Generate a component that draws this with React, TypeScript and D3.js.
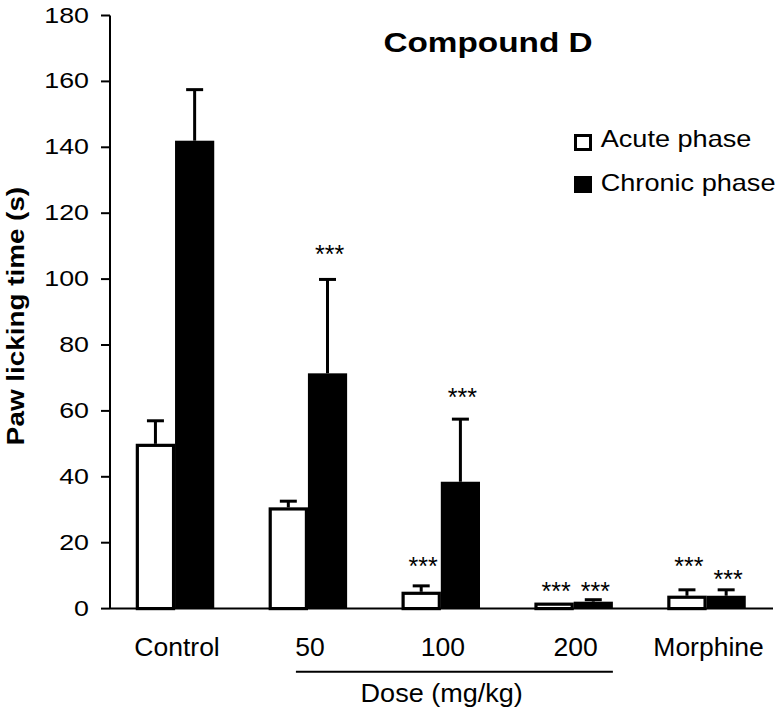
import React from "react";
import * as d3 from "d3";

const categories = ["Control", "50", "100", "200", "Morphine"];
const acuteMean = [50, 30.7, 5.1, 1.8, 3.9];
const acuteSem = [7, 1.9, 1.8, 0, 1.8];
const chronicMean = [142, 71.4, 38.5, 2.1, 3.9];
const chronicSem = [15.5, 28.5, 19, 0.6, 1.8];
// centre height (data units) of "***" significance markers, null = none
const acuteSig: (number | null)[] = [null, null, 14.4, 6.9, 14.5];
const chronicSig: (number | null)[] = [null, 109, 65.6, 6.9, 10.4];
const yTicks = [0, 20, 40, 60, 80, 100, 120, 140, 160, 180];
const doseGroup = ["50", "200"];

const W = 777;
const H = 712;
const FONT = "'Liberation Sans', Arial, sans-serif";

function SText({ x, y, fs, sx = 1, anchor = "start", weight = "normal", rotate = 0, children }: any) {
  const tr = `translate(${x},${y}) rotate(${rotate}) scale(${sx},1)`;
  return (
    <text transform={tr} fontSize={fs} fontFamily={FONT} fontWeight={weight} textAnchor={anchor} fill="#000">
      {children}
    </text>
  );
}

export default function App() {
  const y = d3.scaleLinear().domain([0, 180]).range([608.6, 15.5]);
  const x = d3.scaleBand<string>().domain(categories).range([108.6, 773]).paddingInner(0.41).paddingOuter(0.205);
  const bw = x.bandwidth() / 2;
  const axisX = 110;
  const capW = 17;

  const series = [
    { mean: acuteMean, sem: acuteSem, sig: acuteSig, fill: "#fff", off: 0 },
    { mean: chronicMean, sem: chronicSem, sig: chronicSig, fill: "#000", off: bw },
  ];

  return (
    <svg width={W} height={H} style={{ position: "absolute", left: 0, top: 0, background: "#fff" }}>
      {/* bars */}
      {series.map((s, si) =>
        categories.map((c, i) => {
          const x0 = (x(c) as number) + s.off;
          const cx = x0 + bw / 2;
          const top = y(s.mean[i]);
          const errTop = y(s.mean[i] + s.sem[i]);
          return (
            <g key={`${si}-${c}`}>
              {s.sem[i] > 0 && (
                <g stroke="#000" strokeWidth={3}>
                  <line x1={cx} x2={cx} y1={top} y2={errTop} />
                  <line x1={cx - capW / 2} x2={cx + capW / 2} y1={errTop} y2={errTop} />
                </g>
              )}
              {si === 0 ? (
                <rect x={x0 + 1.5} y={top + 1.5} width={bw - 3} height={Math.max(0, y(0) - top - 1.5)} fill="#fff" stroke="#000" strokeWidth={3.2} />
              ) : (
                <rect x={x0} y={top} width={bw} height={y(0) - top} fill="#000" />
              )}
              {s.sig[i] != null && (
                <SText x={cx + 2} y={y(s.sig[i] as number) + 14} fs={25} anchor="middle">***</SText>
              )}
            </g>
          );
        })
      )}

      {/* axes */}
      <line x1={axisX} x2={axisX} y1={y(180)} y2={y(0)} stroke="#000" strokeWidth={2} />
      <line x1={axisX} x2={773} y1={y(0)} y2={y(0)} stroke="#000" strokeWidth={2} />
      {yTicks.map((t) => (
        <g key={t}>
          <line x1={axisX - 9} x2={axisX} y1={y(t)} y2={y(t)} stroke="#000" strokeWidth={2} />
          <SText x={89} y={y(t) + 7} fs={22.3} sx={1.2} anchor="end">{t}</SText>
        </g>
      ))}

      {/* category labels */}
      {categories.map((c) => (
        <SText key={c} x={(x(c) as number) + x.bandwidth() / 2 + 2} y={656} fs={25.5} sx={1.04} anchor="middle">{c}</SText>
      ))}

      {/* dose bracket */}
      <line
        x1={(x(doseGroup[0]) as number) + x.bandwidth() / 2 - 12}
        x2={(x(doseGroup[1]) as number) + x.bandwidth()}
        y1={671.7}
        y2={671.7}
        stroke="#000"
        strokeWidth={2}
      />
      <SText x={441.7} y={701.7} fs={26} sx={1.04} anchor="middle">Dose (mg/kg)</SText>

      {/* y label */}
      <SText x={24} y={316} fs={24} sx={1.16} anchor="middle" weight="bold" rotate={-90}>Paw licking time (s)</SText>

      {/* title */}
      <SText x={488} y={51.7} fs={28} sx={1.19} anchor="middle" weight="bold">Compound D</SText>

      {/* legend */}
      <rect x={575.5} y={135.5} width={15} height={14} fill="#fff" stroke="#000" strokeWidth={3} />
      <SText x={600.7} y={147} fs={24} sx={1.13}>Acute phase</SText>
      <rect x={574} y={176} width={18} height={17} fill="#000" />
      <SText x={600.7} y={191} fs={24} sx={1.13}>Chronic phase</SText>
    </svg>
  );
}
